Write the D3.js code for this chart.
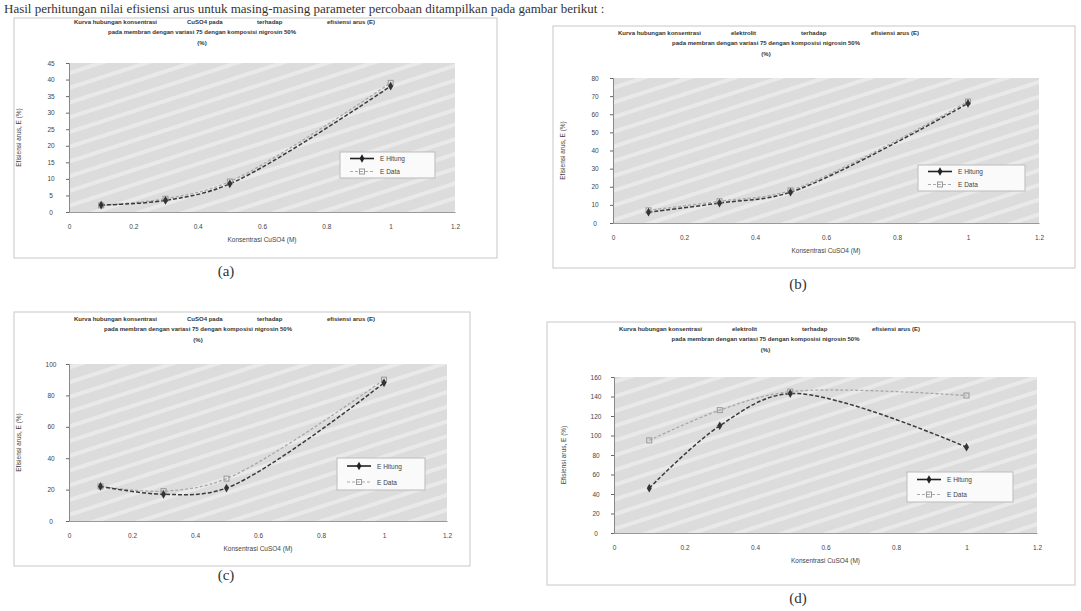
<!DOCTYPE html>
<html>
<head>
<meta charset="utf-8">
<script src="https://cdn.jsdelivr.net/npm/d3@7"></script>
<style>
  body { margin: 0; background: #fff; }
  svg { display: block; }
  .tick text { font-family: "Liberation Sans", Arial, sans-serif; font-size: 6.5px; fill: #444; }
  .ttl { font-family: "Liberation Sans", Arial, sans-serif; font-size: 6px; font-weight: bold; fill: #333; }
  .lab { font-family: "Liberation Sans", Arial, sans-serif; font-size: 6.5px; fill: #444; }
  .cap { font-family: "Liberation Serif", "Times New Roman", serif; font-size: 15px; fill: #333; }
</style>
</head>
<body>
<svg width="1081" height="611"></svg>
<script>
// konsentrasi CuSO4 (M)
var konsentrasi = [0.1, 0.3, 0.5, 1.0];
var xTicks = [0, 0.2, 0.4, 0.6, 0.8, 1, 1.2];

// (a)
var aHitung = [2.1, 3.5, 8.5, 38];
var aData   = [2.0, 4.0, 9.2, 39];
var aTicks  = [0, 5, 10, 15, 20, 25, 30, 35, 40, 45];
// (b)
var bHitung = [6, 11, 17, 66];
var bData   = [7, 12, 18, 67];
var bTicks  = [0, 10, 20, 30, 40, 50, 60, 70, 80];
// (c)
var cHitung = [22, 17, 21, 88];
var cData   = [22, 19, 27, 90];
var cTicks  = [0, 20, 40, 60, 80, 100];
// (d)
var dHitung = [46, 110, 143, 88];
var dData   = [95, 126, 145, 141];
var dTicks  = [0, 20, 40, 60, 80, 100, 120, 140, 160];

var legendNames = ["E Hitung", "E Data"];
var captions = ["(a)", "(b)", "(c)", "(d)"];

var svg = d3.select("svg");

// line of body text above the charts
svg.append("text")
  .attr("x", 4).attr("y", 13)
  .attr("class", "cap")
  .style("font-size", "13px")
  .text("Hasil perhitungan nilai efisiensi arus untuk masing-masing parameter percobaan ditampilkan pada gambar berikut :");

var defs = svg.append("defs");
var pat = defs.append("pattern")
  .attr("id", "streak").attr("patternUnits", "userSpaceOnUse")
  .attr("width", 14).attr("height", 14)
  .attr("patternTransform", "rotate(-18)");
pat.append("rect").attr("width", 14).attr("height", 14).attr("fill", "#dcdcdc");
pat.append("rect").attr("y", 5).attr("width", 14).attr("height", 4).attr("fill", "#e9e9e9");

var panels = [
  { frame: [14, 18, 497, 258], x0: 69, x1: 455, yTop: 63, yBot: 212, ticks: aTicks, s1: aHitung, s2: aData,
    leg: [340, 152, 95, 26], cap: [226, 276], t: ["Kurva hubungan konsentrasi", "CuSO4 pada", "terhadap", "efisiensi arus (E)"] },
  { frame: [553, 26, 1075, 268], x0: 613, x1: 1039, yTop: 78, yBot: 223, ticks: bTicks, s1: bHitung, s2: bData,
    leg: [918, 165, 107, 26], cap: [798, 289], t: ["Kurva hubungan konsentrasi", "elektrolit", "terhadap", "efisiensi arus (E)"] },
  { frame: [14, 312, 470, 566], x0: 69, x1: 447, yTop: 364, yBot: 521, ticks: cTicks, s1: cHitung, s2: cData,
    leg: [337, 458, 88, 32], cap: [226, 580], t: ["Kurva hubungan konsentrasi", "CuSO4 pada", "terhadap", "efisiensi arus (E)"] },
  { frame: [547, 322, 1075, 585], x0: 614, x1: 1037, yTop: 377, yBot: 533, ticks: dTicks, s1: dHitung, s2: dData,
    leg: [907, 472, 106, 30], cap: [798, 603], t: ["Kurva hubungan konsentrasi", "elektrolit", "terhadap", "efisiensi arus (E)"] }
];

panels.forEach(function(p, i) {
  var g = svg.append("g");
  var f = p.frame;

  // chart frame (faint)
  g.append("rect")
    .attr("x", f[0]).attr("y", f[1])
    .attr("width", f[2] - f[0]).attr("height", f[3] - f[1])
    .attr("fill", "none").attr("stroke", "#c8c8c8").attr("stroke-width", 1);

  var x = d3.scaleLinear().domain([0, 1.2]).range([p.x0, p.x1]);
  var y = d3.scaleLinear().domain([0, d3.max(p.ticks)]).range([p.yBot, p.yTop]);

  // plot area
  g.append("rect")
    .attr("x", p.x0).attr("y", p.yTop)
    .attr("width", p.x1 - p.x0).attr("height", p.yBot - p.yTop)
    .attr("fill", "url(#streak)");

  // title, three lines
  var cx = (p.x0 + p.x1) / 2;
  var tt = g.append("g").attr("class", "ttl");
  var tx = [p.x0 + 5, p.x0 + 118, p.x0 + 188, p.x0 + 258];
  var ty = i === 0 ? f[1] + 6 : f[1] + 9;
  p.t.forEach(function(w, k) {
    tt.append("text").attr("x", tx[k]).attr("y", ty).text(w);
  });
  tt.append("text").attr("x", cx - 60).attr("y", ty + 10).attr("text-anchor", "middle")
    .text("pada membran dengan variasi 75 dengan komposisi nigrosin 50%");
  tt.append("text").attr("x", cx - 60).attr("y", ty + 21).attr("text-anchor", "middle").text("(%)");

  // axes
  g.append("g")
    .attr("transform", "translate(0," + p.yBot + ")")
    .call(d3.axisBottom(x).tickValues(xTicks).tickFormat(function(d) { return String(d); })
      .tickSize(0).tickPadding(12))
    .call(function(a) { a.select(".domain").attr("stroke", "#999"); });

  g.append("g")
    .attr("transform", "translate(" + p.x0 + ",0)")
    .call(d3.axisLeft(y).tickValues(p.ticks).tickSize(3).tickPadding(40))
    .call(function(a) {
      a.select(".domain").attr("stroke", "#888");
      a.selectAll("line").attr("stroke", "#666");
      a.selectAll("text").attr("text-anchor", "middle").attr("dx", 25);
    });

  g.append("text").attr("class", "lab")
    .attr("x", cx).attr("y", p.yBot + 30).attr("text-anchor", "middle")
    .text("Konsentrasi CuSO4 (M)");
  g.append("text").attr("class", "lab")
    .attr("transform", "translate(" + (p.x0 - 48) + "," + ((p.yTop + p.yBot) / 2) + ") rotate(-90)")
    .attr("text-anchor", "middle")
    .text("Efisiensi arus, E (%)");

  var line = d3.line().curve(d3.curveCatmullRom.alpha(0.5))
    .x(function(d) { return x(d[0]); })
    .y(function(d) { return y(d[1]); });

  var d1 = d3.zip(konsentrasi, p.s1),
      d2 = d3.zip(konsentrasi, p.s2);

  g.append("path").datum(d2)
    .attr("d", line).attr("fill", "none")
    .attr("stroke", "#a8a8a8").attr("stroke-width", 1.3).attr("stroke-dasharray", "3,2");
  g.append("path").datum(d1)
    .attr("d", line).attr("fill", "none")
    .attr("stroke", "#3a3a3a").attr("stroke-width", 1.5).attr("stroke-dasharray", "4,2");

  g.selectAll(".m2").data(d2).enter().append("rect")
    .attr("x", function(d) { return x(d[0]) - 2.5; })
    .attr("y", function(d) { return y(d[1]) - 2.5; })
    .attr("width", 5).attr("height", 5)
    .attr("fill", "none").attr("stroke", "#999");
  g.selectAll(".m1").data(d1).enter().append("path")
    .attr("d", d3.symbol(d3.symbolDiamond, 22))
    .attr("transform", function(d) { return "translate(" + x(d[0]) + "," + y(d[1]) + ")"; })
    .attr("fill", "#333");

  // legend
  var L = p.leg;
  var lg = g.append("g").attr("transform", "translate(" + L[0] + "," + L[1] + ")");
  lg.append("rect").attr("width", L[2]).attr("height", L[3])
    .attr("fill", "#fafafa").attr("stroke", "#bbb");
  legendNames.forEach(function(n, k) {
    var ly = L[3] / 4 + k * L[3] / 2;
    lg.append("line").attr("x1", 10).attr("x2", 34).attr("y1", ly).attr("y2", ly)
      .attr("stroke", k === 0 ? "#222" : "#aaa").attr("stroke-width", k === 0 ? 1.6 : 1.2)
      .attr("stroke-dasharray", k === 0 ? null : "3,2");
    if (k === 0) {
      lg.append("path").attr("d", d3.symbol(d3.symbolDiamond, 20))
        .attr("transform", "translate(22," + ly + ")").attr("fill", "#222");
    } else {
      lg.append("rect").attr("x", 19.5).attr("y", ly - 2.5).attr("width", 5).attr("height", 5)
        .attr("fill", "none").attr("stroke", "#999");
    }
    lg.append("text").attr("class", "lab").attr("x", 40).attr("y", ly + 2.5).text(n);
  });

  svg.append("text").attr("class", "cap")
    .attr("x", p.cap[0]).attr("y", p.cap[1]).attr("text-anchor", "middle")
    .text(captions[i]);
});
</script>
</body>
</html>
